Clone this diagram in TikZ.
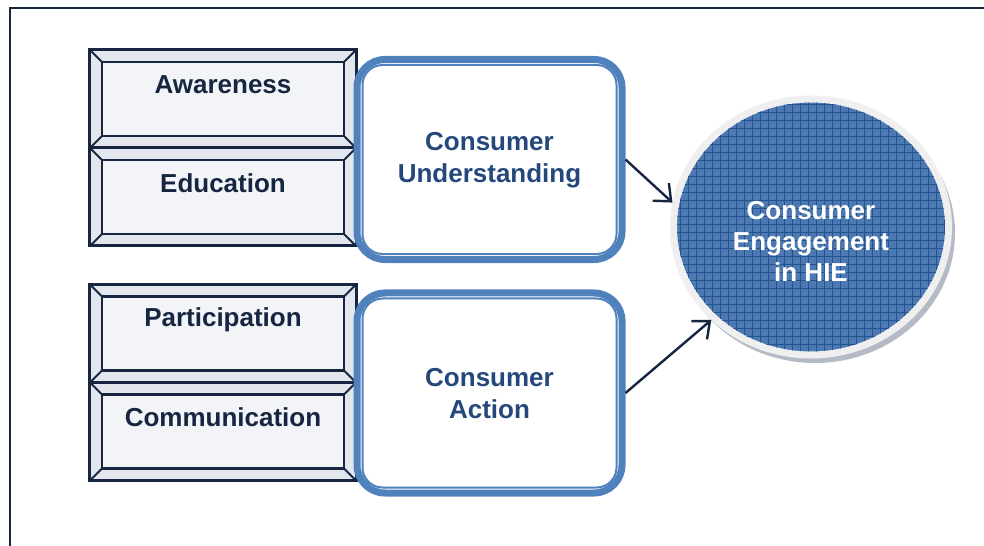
\documentclass[tikz,border=0pt]{standalone}
\usepackage{fontspec}
\setmainfont{Liberation Sans}
\usetikzlibrary{arrows.meta,shapes.geometric}
\definecolor{navy}{HTML}{172640}
\definecolor{bluetext}{HTML}{24487C}
\definecolor{rblue}{HTML}{4F81BD}
\definecolor{cfill}{HTML}{4D79B3}
\definecolor{cgrid}{HTML}{24548F}
\definecolor{ringgrey}{HTML}{EFEFEF}
\definecolor{shadowgrey}{HTML}{B4BAC6}
\definecolor{bevfill}{HTML}{E3E6EC}
\definecolor{bevin}{HTML}{F3F4F7}
\newcommand{\bevelinner}[1]{%
  \fill[bevin] ([shift={(12,12)}]#1.north west) rectangle ([shift={(-12,-12)}]#1.south east);
  \draw[navy, line width=2.6bp] ([shift={(12,12)}]#1.north west) rectangle ([shift={(-12,-12)}]#1.south east);
  \draw[navy, line width=2bp] (#1.north west) -- ++(12,12) (#1.north east) -- ++(-12,12)
    (#1.south west) -- ++(12,-12) (#1.south east) -- ++(-12,-12);}
\newcommand{\roundinner}[1]{%
  \draw[rblue, line width=2bp, rounded corners=20bp] ([shift={(9,9)}]#1.north west) rectangle ([shift={(-9,-9)}]#1.south east);}
\begin{document}
\begin{tikzpicture}[x=1bp,y=-1bp,
  bevel/.style={draw=navy, line width=3bp, fill=bevfill, minimum width=266bp, minimum height=98bp, inner sep=0pt, outer sep=0pt},
  bevtext/.style={text=navy, font=\bfseries\fontsize{26bp}{31bp}\selectfont, inner sep=0pt},
  rbox/.style={draw=rblue, line width=7bp, fill=white, rounded corners=28bp, minimum width=265bp, minimum height=200bp, inner sep=0pt},
  rtext/.style={text=bluetext, font=\bfseries\fontsize{26bp}{32bp}\selectfont, align=center, inner sep=0pt},
  ctext/.style={text=white, font=\bfseries\fontsize{26bp}{31bp}\selectfont, align=center, inner sep=0pt},
  conn/.style={draw=navy, line width=2.4bp, -{Straight Barb[length=14bp,width=24bp,line width=2.4bp]}}
]
\useasboundingbox (0,0) rectangle (984,546);
\fill[white] (0,0) rectangle (984,546);
% frame
\draw[navy, line width=2.5bp] (10,546) -- (10,8) -- (984,8);
% bevel boxes
\node[bevel] (aw) at (223,99) {};
\node[bevel] (ed) at (223,197) {};
\node[bevel] (pa) at (223,333.5) {};
\node[bevel] (co) at (223,431.5) {};
\bevelinner{aw}
\bevelinner{ed}
\bevelinner{pa}
\bevelinner{co}
\draw[navy, line width=3bp] (aw.north west) rectangle (aw.south east);
\draw[navy, line width=3bp] (ed.north west) rectangle (ed.south east);
\draw[navy, line width=3bp] (pa.north west) rectangle (pa.south east);
\draw[navy, line width=3bp] (co.north west) rectangle (co.south east);
\node[bevtext] (awt) at ([yshift=14bp]aw.center) {Awareness};
\node[bevtext] (edt) at ([yshift=14bp]ed.center) {Education};
\node[bevtext] (pat) at ([yshift=14bp]pa.center) {Participation};
\node[bevtext] (cot) at ([yshift=14bp]co.center) {Communication};
% rounded boxes
\node[rbox] (cu) at (489.5,159.5) {};
\node[rbox] (ca) at (489.5,393) {};
\roundinner{cu}
\roundinner{ca}
\node[rtext] (cut) at ([yshift=-1bp]cu.center) {Consumer\\Understanding};
\node[rtext] (cat) at ([yshift=-1bp]ca.center) {Consumer\\Action};
% circle
\fill[shadowgrey] (815,233) ellipse (140 and 130);
\node[ellipse, draw=ringgrey, line width=7bp, fill=cfill, minimum width=275bp, minimum height=256bp, inner sep=0pt] (ce) at (811,227) {};
\begin{scope}
  \clip (811,227) ellipse (134 and 124.5);
  \foreach \x in {672,680,...,952} \draw[cgrid, line width=0.9bp] (\x,95) -- (\x,360);
  \foreach \y in {96,104,...,360} \draw[cgrid, line width=0.9bp] (670,\y) -- (952,\y);
\end{scope}
\node[ctext] (cet) at ([yshift=-14bp]ce.center) {Consumer\\Engagement\\in HIE};
% connectors
\draw[conn] (cu.east) -- (ce.170);
\draw[conn] (ca.east) -- (ce.223);
\end{tikzpicture}
\end{document}
